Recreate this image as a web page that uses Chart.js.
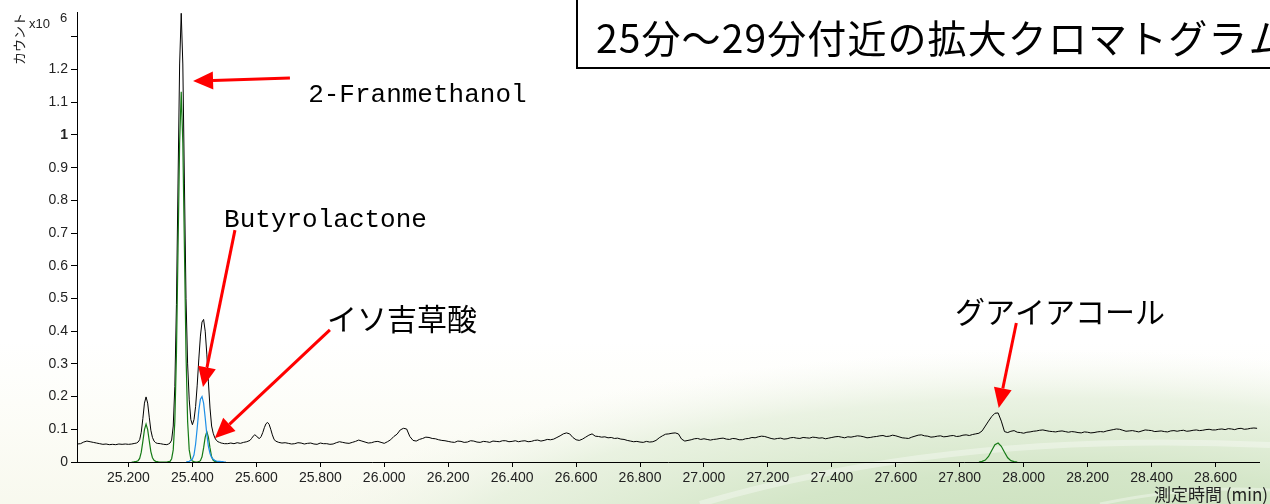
<!DOCTYPE html>
<html lang="ja">
<head>
<meta charset="utf-8">
<title>25分～29分付近の拡大クロマトグラム</title>
<script src="https://cdn.jsdelivr.net/npm/chart.js@4.4.1/dist/chart.umd.min.js"></script>
<style>
  html, body { margin: 0; padding: 0; background: #fff; }
  #wrap { width: 1270px; height: 504px; position: relative; }
</style>
</head>
<body>
<div id="wrap"><canvas id="chromatogram"></canvas></div>
<script>
// counts are in units of x10^6, time in minutes

// total ion trace (black)
var ticTime = [
  25.04, 25.05, 25.06, 25.07, 25.08, 25.09, 25.10, 25.11, 25.12, 25.13, 25.14, 25.15, 25.16, 25.17, 25.18, 25.19, 25.20, 25.21, 25.22,
  25.225, 25.23, 25.235, 25.24, 25.245, 25.25, 25.255, 25.26, 25.265, 25.27, 25.275, 25.28, 25.285, 25.29,
  25.30, 25.31, 25.32, 25.325,
  25.33, 25.335, 25.34, 25.345, 25.35, 25.355, 25.36, 25.365, 25.37, 25.375, 25.38, 25.385, 25.39, 25.395,
  25.40, 25.405, 25.41, 25.415, 25.42, 25.425, 25.43, 25.435, 25.44, 25.445, 25.45, 25.455, 25.46, 25.465,
  25.47, 25.475, 25.48, 25.485, 25.49, 25.495, 25.50,
  25.51, 25.52, 25.53, 25.54, 25.55, 25.56, 25.57, 25.58, 25.585, 25.59, 25.595, 25.60, 25.605, 25.61, 25.615,
  25.62, 25.625, 25.63, 25.635, 25.64, 25.645, 25.65, 25.655, 25.66, 25.67, 25.68, 25.69, 25.70,
  25.71, 25.72, 25.73, 25.74, 25.75, 25.76, 25.77, 25.78, 25.79, 25.80,
  25.81, 25.82, 25.83, 25.84, 25.85, 25.86, 25.87, 25.88, 25.89, 25.90,
  25.91, 25.92, 25.93, 25.94, 25.95, 25.96, 25.97, 25.98, 25.99, 26.00,
  26.01, 26.02, 26.03, 26.04, 26.05, 26.06, 26.07, 26.08, 26.09, 26.10,
  26.11, 26.12, 26.13, 26.14, 26.15, 26.16, 26.17, 26.18, 26.19, 26.20,
  26.21, 26.22, 26.23, 26.24, 26.25, 26.26, 26.27, 26.28, 26.29, 26.30,
  26.31, 26.32, 26.33, 26.34, 26.35, 26.36, 26.37, 26.38, 26.39, 26.40,
  26.41, 26.42, 26.43, 26.44, 26.45, 26.46, 26.47, 26.48, 26.49, 26.50,
  26.51, 26.52, 26.53, 26.54, 26.55, 26.56, 26.57, 26.58, 26.59, 26.60,
  26.61, 26.62, 26.63, 26.64, 26.65, 26.66, 26.67, 26.68, 26.69, 26.70,
  26.71, 26.72, 26.73, 26.74, 26.75, 26.76, 26.77, 26.78, 26.79, 26.80,
  26.81, 26.82, 26.83, 26.84, 26.85, 26.86, 26.87, 26.88, 26.89, 26.90,
  26.91, 26.92, 26.93, 26.94, 26.95, 26.96, 26.97, 26.98, 26.99, 27.00,
  27.01, 27.02, 27.03, 27.04, 27.05, 27.06, 27.07, 27.08, 27.09, 27.10,
  27.11, 27.12, 27.13, 27.14, 27.15, 27.16, 27.17, 27.18, 27.19, 27.20,
  27.21, 27.22, 27.23, 27.24, 27.25, 27.26, 27.27, 27.28, 27.29, 27.30,
  27.31, 27.32, 27.33, 27.34, 27.35, 27.36, 27.37, 27.38, 27.39, 27.40,
  27.41, 27.42, 27.43, 27.44, 27.45, 27.46, 27.47, 27.48, 27.49, 27.50,
  27.51, 27.52, 27.53, 27.54, 27.55, 27.56, 27.57, 27.58, 27.59, 27.60,
  27.61, 27.62, 27.63, 27.64, 27.65, 27.66, 27.67, 27.68, 27.69, 27.70,
  27.71, 27.72, 27.73, 27.74, 27.75, 27.76, 27.77, 27.78, 27.79, 27.80,
  27.81, 27.82, 27.83, 27.84, 27.85, 27.86, 27.87, 27.88, 27.89, 27.90,
  27.91, 27.92, 27.93, 27.94, 27.95, 27.96, 27.97, 27.98, 27.99, 28.00,
  28.01, 28.02, 28.03, 28.04, 28.05, 28.06, 28.07, 28.08, 28.09, 28.10,
  28.11, 28.12, 28.13, 28.14, 28.15, 28.16, 28.17, 28.18, 28.19, 28.20,
  28.21, 28.22, 28.23, 28.24, 28.25, 28.26, 28.27, 28.28, 28.29, 28.30,
  28.31, 28.32, 28.33, 28.34, 28.35, 28.36, 28.37, 28.38, 28.39, 28.40,
  28.41, 28.42, 28.43, 28.44, 28.45, 28.46, 28.47, 28.48, 28.49, 28.50,
  28.51, 28.52, 28.53, 28.54, 28.55, 28.56, 28.57, 28.58, 28.59, 28.60,
  28.61, 28.62, 28.63, 28.64, 28.65, 28.66, 28.67, 28.68, 28.69, 28.70,
  28.71, 28.72, 28.73
];
var ticCounts = [
  0.055, 0.056, 0.061, 0.064, 0.062, 0.060, 0.058, 0.056, 0.054, 0.055, 0.053, 0.054, 0.053, 0.055, 0.054, 0.055, 0.054, 0.055, 0.057,
  0.058, 0.061, 0.068, 0.091, 0.133, 0.180, 0.199, 0.180, 0.137, 0.097, 0.075, 0.064, 0.059, 0.057,
  0.056, 0.054, 0.053, 0.055,
  0.058, 0.067, 0.110, 0.231, 0.481, 0.853, 1.217, 1.372, 1.217, 0.853, 0.500, 0.300, 0.190, 0.130,
  0.114, 0.130, 0.170, 0.235, 0.315, 0.385, 0.428, 0.436, 0.400, 0.330, 0.245, 0.165, 0.110, 0.088,
  0.074, 0.066, 0.062, 0.060, 0.058, 0.057, 0.056,
  0.056, 0.058, 0.056, 0.059, 0.057, 0.060, 0.062, 0.066, 0.072, 0.079, 0.083, 0.080, 0.074, 0.072, 0.078,
  0.090, 0.105, 0.117, 0.121, 0.115, 0.100, 0.083, 0.070, 0.064, 0.060, 0.058, 0.059, 0.057,
  0.055, 0.056, 0.059, 0.058, 0.055, 0.057, 0.058, 0.055, 0.054, 0.058,
  0.056, 0.056, 0.054, 0.055, 0.059, 0.062, 0.060, 0.058, 0.057, 0.060,
  0.063, 0.067, 0.064, 0.061, 0.058, 0.059, 0.062, 0.063, 0.060, 0.057,
  0.062, 0.068, 0.078, 0.085, 0.098, 0.103, 0.101, 0.078, 0.066, 0.064,
  0.069, 0.072, 0.076, 0.075, 0.072, 0.071, 0.068, 0.066, 0.065, 0.063,
  0.061, 0.060, 0.064, 0.063, 0.060, 0.061, 0.065, 0.064, 0.061, 0.060,
  0.063, 0.062, 0.060, 0.064, 0.063, 0.062, 0.065, 0.065, 0.062, 0.063,
  0.065, 0.062, 0.064, 0.065, 0.062, 0.063, 0.066, 0.067, 0.064, 0.066,
  0.069, 0.068, 0.070, 0.075, 0.080, 0.086, 0.089, 0.086, 0.075, 0.068,
  0.066, 0.070, 0.076, 0.082, 0.086, 0.079, 0.078, 0.076, 0.077, 0.074,
  0.075, 0.072, 0.073, 0.070, 0.069, 0.066, 0.064, 0.062, 0.063, 0.061,
  0.060, 0.063, 0.061, 0.062, 0.066, 0.074, 0.080, 0.085, 0.086, 0.088,
  0.089, 0.086, 0.070, 0.064, 0.066, 0.068, 0.071, 0.072, 0.069, 0.071,
  0.069, 0.067, 0.069, 0.070, 0.072, 0.073, 0.070, 0.069, 0.072, 0.071,
  0.068, 0.068, 0.071, 0.072, 0.075, 0.074, 0.077, 0.079, 0.078, 0.075,
  0.072, 0.070, 0.072, 0.073, 0.070, 0.071, 0.074, 0.075, 0.073, 0.072,
  0.075, 0.074, 0.073, 0.076, 0.075, 0.073, 0.074, 0.071, 0.073, 0.075,
  0.077, 0.078, 0.076, 0.074, 0.077, 0.076, 0.078, 0.080, 0.079, 0.077,
  0.074, 0.075, 0.077, 0.078, 0.080, 0.081, 0.078, 0.079, 0.082, 0.080,
  0.077, 0.074, 0.073, 0.072, 0.076, 0.079, 0.082, 0.083, 0.080, 0.079,
  0.076, 0.077, 0.079, 0.080, 0.077, 0.078, 0.080, 0.081, 0.078, 0.079,
  0.082, 0.083, 0.081, 0.084, 0.086, 0.088, 0.095, 0.110, 0.125, 0.139,
  0.149, 0.150, 0.125, 0.093, 0.090, 0.094, 0.096, 0.091, 0.090, 0.088,
  0.091, 0.092, 0.094, 0.095, 0.097, 0.098, 0.096, 0.094, 0.093, 0.092,
  0.094, 0.095, 0.093, 0.091, 0.093, 0.092, 0.090, 0.089, 0.092, 0.091,
  0.089, 0.090, 0.092, 0.093, 0.092, 0.095, 0.097, 0.099, 0.101, 0.100,
  0.097, 0.094, 0.095, 0.096, 0.094, 0.092, 0.095, 0.098, 0.097, 0.096,
  0.093, 0.094, 0.095, 0.093, 0.092, 0.095, 0.096, 0.094, 0.096, 0.097,
  0.094, 0.095, 0.097, 0.098, 0.096, 0.097, 0.099, 0.100, 0.098, 0.098,
  0.100, 0.101, 0.099, 0.102, 0.101, 0.099, 0.102, 0.103, 0.100, 0.101,
  0.103, 0.104, 0.103
];

// extracted ion traces (green), 25.2 - 25.5 min
var greenTime = [
  25.210, 25.215, 25.220, 25.225, 25.230, 25.235, 25.240, 25.245, 25.250, 25.255, 25.260, 25.265, 25.270, 25.275,
  25.280, 25.285, 25.290, 25.295, 25.300, 25.305, 25.310, 25.315, 25.320, 25.325, 25.330, 25.335, 25.340, 25.345,
  25.350, 25.355, 25.360, 25.365, 25.370, 25.375, 25.380, 25.385, 25.390, 25.395, 25.400, 25.405, 25.410, 25.415,
  25.420, 25.425, 25.430, 25.435, 25.440, 25.445, 25.450, 25.455, 25.460, 25.465, 25.470, 25.475, 25.480
];
var greenCounts = [
  0.000, 0.000, 0.001, 0.002, 0.004, 0.011, 0.030, 0.063, 0.099, 0.116, 0.099, 0.065, 0.032, 0.013,
  0.005, 0.002, 0.001, 0.000, 0.000, 0.000, 0.000, 0.000, 0.000, 0.001, 0.002, 0.010, 0.037, 0.124,
  0.328, 0.652, 0.975, 1.132, 0.975, 0.652, 0.328, 0.124, 0.037, 0.010, 0.003, 0.001, 0.000, 0.000,
  0.001, 0.004, 0.016, 0.043, 0.076, 0.093, 0.076, 0.043, 0.016, 0.005, 0.002, 0.001, 0.000
];

// green trace around the guaiacol peak
var guaiacolTime = [27.860, 27.870, 27.880, 27.890, 27.900, 27.910, 27.920, 27.930, 27.940, 27.950, 27.960, 27.970, 27.980];
var guaiacolCounts = [0.000, 0.002, 0.006, 0.017, 0.035, 0.053, 0.058, 0.048, 0.030, 0.013, 0.004, 0.001, 0.000];

// butyrolactone trace (blue)
var blueTime = [
  25.380, 25.385, 25.390, 25.395, 25.400, 25.405, 25.410, 25.415, 25.420, 25.425, 25.430, 25.435, 25.440,
  25.445, 25.450, 25.455, 25.460, 25.465, 25.470, 25.475, 25.480, 25.485, 25.490, 25.495, 25.500, 25.505
];
var blueCounts = [
  0.000, 0.001, 0.002, 0.005, 0.009, 0.022, 0.055, 0.104, 0.158, 0.192, 0.200, 0.180, 0.135,
  0.085, 0.048, 0.026, 0.014, 0.008, 0.005, 0.003, 0.002, 0.002, 0.001, 0.001, 0.000, 0.000
];

// axis range and steps
var timeRange = [25.039, 28.736];
var countRange = [0, 1.376];
var timeStep = 0.2;
var countStep = 0.1;

// annotations (anchored in data units)
var labelNames = ['2-Franmethanol', 'Butyrolactone', 'イソ吉草酸', 'グアイアコール'];
var labelAnchors = [[25.762, 1.122], [25.499, 0.740], [25.821, 0.437], [27.785, 0.459]];
var arrowFrom = [[25.705, 1.174], [25.533, 0.709], [25.830, 0.404], [27.977, 0.425]];
var arrowTo = [[25.402, 1.165], [25.433, 0.229], [25.470, 0.073], [27.922, 0.165]];

function toPoints(xs, ys) {
  return xs.map(function(x, i) { return { x: x, y: ys[i] }; });
}

function drawArrow(ctx, x1, y1, x2, y2) {
  var ang = Math.atan2(y2 - y1, x2 - x1);
  var head = 20, half = 9;
  var bx = x2 - head * Math.cos(ang), by = y2 - head * Math.sin(ang);
  ctx.beginPath();
  ctx.moveTo(x1, y1);
  ctx.lineTo(bx, by);
  ctx.stroke();
  ctx.beginPath();
  ctx.moveTo(x2, y2);
  ctx.lineTo(bx + half * Math.sin(ang), by - half * Math.cos(ang));
  ctx.lineTo(bx - half * Math.sin(ang), by + half * Math.cos(ang));
  ctx.closePath();
  ctx.fill();
}

var backdrop = {
  id: 'backdrop',
  beforeDraw: function(chart) {
    var ctx = chart.ctx, w = chart.width, h = chart.height;
    ctx.save();
    ctx.fillStyle = '#fff';
    ctx.fillRect(0, 0, w, h);
    var cream = ctx.createLinearGradient(0, 340, 0, h);
    cream.addColorStop(0, 'rgba(250,250,238,0)');
    cream.addColorStop(1, 'rgba(247,248,236,0.9)');
    ctx.fillStyle = cream;
    ctx.fillRect(0, 340, w, h - 340);
    // green swoosh bottom right
    ctx.save();
    ctx.translate(1060, 590);
    ctx.scale(1, 0.3);
    var g = ctx.createRadialGradient(0, 0, 0, 0, 0, 800);
    g.addColorStop(0, 'rgba(196,220,180,1)');
    g.addColorStop(0.5, 'rgba(210,229,198,0.95)');
    g.addColorStop(0.8, 'rgba(226,238,217,0.7)');
    g.addColorStop(1, 'rgba(242,246,236,0)');
    ctx.fillStyle = g;
    ctx.beginPath();
    ctx.arc(0, 0, 800, 0, Math.PI * 2);
    ctx.fill();
    ctx.restore();
    // pale streaks
    ctx.strokeStyle = 'rgba(255,255,255,0.35)';
    ctx.lineWidth = 6;
    ctx.beginPath();
    ctx.moveTo(700, 504);
    ctx.quadraticCurveTo(950, 430, 1270, 445);
    ctx.stroke();
    ctx.lineWidth = 3;
    ctx.beginPath();
    ctx.moveTo(1100, 504);
    ctx.quadraticCurveTo(1190, 485, 1270, 490);
    ctx.stroke();
    ctx.restore();
  },
  afterDraw: function(chart) {
    var ctx = chart.ctx, sx = chart.scales.x, sy = chart.scales.y;
    ctx.save();

    // title box
    ctx.strokeStyle = '#000';
    ctx.lineWidth = 2;
    ctx.fillStyle = '#fff';
    ctx.fillRect(577, -10, 720, 78);
    ctx.strokeRect(577, -10, 720, 78);
    ctx.fillStyle = '#000';
    ctx.font = '39px "Noto Sans CJK JP"';
    ctx.letterSpacing = '1.1px';
    ctx.textBaseline = 'middle';
    ctx.textAlign = 'left';
    ctx.fillText('25分～29分付近の拡大クロマトグラム', 596, 38);
    ctx.letterSpacing = '0px';

    // y axis caption
    ctx.save();
    ctx.translate(19, 39);
    ctx.rotate(-Math.PI / 2);
    ctx.font = '13px "Noto Sans CJK JP"';
    ctx.textAlign = 'center';
    ctx.fillStyle = '#222';
    ctx.fillText('カウント', 0, 0);
    ctx.restore();
    ctx.fillStyle = '#222';
    ctx.font = '13px "Liberation Sans"';
    ctx.textBaseline = 'alphabetic';
    ctx.fillText('x10', 29, 28);
    ctx.fillText('6', 60, 22);

    // x axis caption
    ctx.font = '17px "Noto Sans CJK JP"';
    ctx.textAlign = 'right';
    ctx.textBaseline = 'middle';
    ctx.fillText('測定時間 (min)', 1268, 495);

    // arrows
    ctx.strokeStyle = '#ff0000';
    ctx.fillStyle = '#ff0000';
    ctx.lineWidth = 3;
    for (var i = 0; i < arrowFrom.length; i++) {
      drawArrow(ctx,
        sx.getPixelForValue(arrowFrom[i][0]), sy.getPixelForValue(arrowFrom[i][1]),
        sx.getPixelForValue(arrowTo[i][0]), sy.getPixelForValue(arrowTo[i][1]));
    }

    // labels
    ctx.fillStyle = '#000';
    ctx.textAlign = 'left';
    ctx.textBaseline = 'middle';
    for (var j = 0; j < labelNames.length; j++) {
      ctx.font = j < 2 ? '26px "Liberation Mono"' : '30px "Noto Sans CJK JP"';
      ctx.fillText(labelNames[j], sx.getPixelForValue(labelAnchors[j][0]), sy.getPixelForValue(labelAnchors[j][1]));
    }
    ctx.restore();
  }
};

var tickFont = { family: '"Liberation Sans", Arial, sans-serif', size: 14 };

new Chart(document.getElementById('chromatogram'), {
  type: 'line',
  data: {
    datasets: [
      { label: 'TIC', data: toPoints(ticTime, ticCounts), borderColor: '#000', borderWidth: 1, pointRadius: 0, order: 2 },
      { label: 'green', data: toPoints(greenTime, greenCounts), borderColor: '#157a15', borderWidth: 1.2, pointRadius: 0, order: 1 },
      { label: 'guaiacol', data: toPoints(guaiacolTime, guaiacolCounts), borderColor: '#157a15', borderWidth: 1.2, pointRadius: 0, order: 1 },
      { label: 'blue', data: toPoints(blueTime, blueCounts), borderColor: '#1e8fe6', borderWidth: 1.2, pointRadius: 0, order: 0 }
    ]
  },
  plugins: [backdrop],
  options: {
    responsive: true,
    maintainAspectRatio: false,
    animation: false,
    layout: { padding: { top: 12, right: 11, left: 0, bottom: 0 } },
    plugins: { legend: { display: false }, tooltip: { enabled: false } },
    elements: { line: { tension: 0 } },
    scales: {
      x: {
        type: 'linear',
        min: timeRange[0],
        max: timeRange[1],
        afterFit: function(s) { s.height = 42; },
        grid: { drawOnChartArea: false, color: '#000', tickLength: 5 },
        border: { color: '#000', width: 1 },
        ticks: {
          stepSize: timeStep,
          includeBounds: false,
          autoSkip: false,
          maxRotation: 0,
          padding: 3,
          color: '#222',
          font: tickFont,
          callback: function(v) { return v.toFixed(3); }
        }
      },
      y: {
        min: countRange[0],
        max: countRange[1],
        afterFit: function(s) { s.width = 77; },
        grid: { drawOnChartArea: false, color: '#000', tickLength: 6 },
        border: { color: '#000', width: 1 },
        ticks: {
          stepSize: countStep,
          includeBounds: false,
          padding: 3,
          color: '#222',
          font: function(c) {
            var bold = c.tick && Math.abs(c.tick.value - 1) < 1e-6;
            return { family: tickFont.family, size: 14, weight: bold ? 'bold' : 'normal' };
          },
          callback: function(v) {
            var r = Math.round(v * 10) / 10;
            if (r > 1.25) return '';
            return r === 0 || r === 1 ? String(r) : r.toFixed(1);
          }
        }
      }
    }
  }
});
</script>
</body>
</html>
